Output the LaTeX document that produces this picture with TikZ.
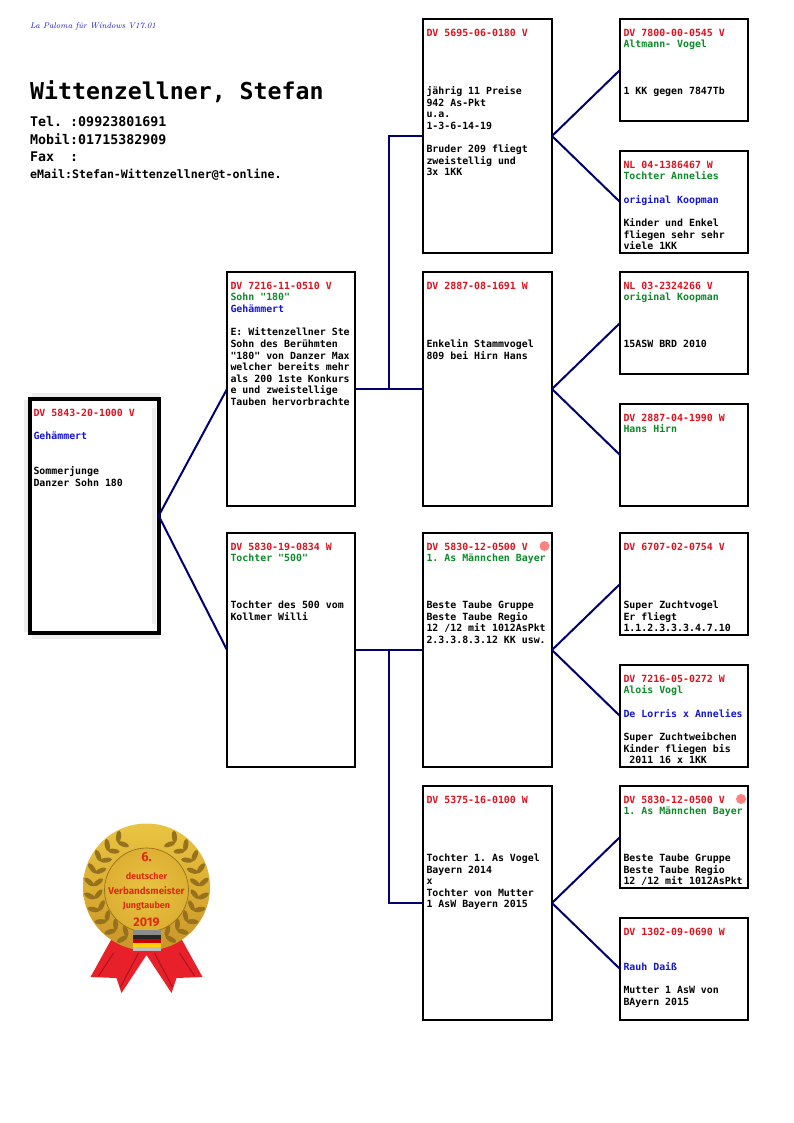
\documentclass[tikz,border=0pt]{standalone}
\usepackage{fontspec}
\usepackage{xcolor}
\setmonofont{DejaVu Sans Mono}
\newfontfamily\medalfont{Fira Sans}
\usetikzlibrary{calc}
\definecolor{pred}{HTML}{E0101C}
\definecolor{pgreen}{HTML}{0C8A28}
\definecolor{pblue}{HTML}{1414D8}
\definecolor{navyline}{HTML}{00006E}
\definecolor{shadowgray}{HTML}{EDEDED}
\definecolor{leafbrown}{HTML}{96721E}
\definecolor{goldA}{HTML}{E9C443}
\definecolor{goldB}{HTML}{DDAF32}
\definecolor{goldC}{HTML}{C9952A}
\definecolor{ribbon}{HTML}{E8202A}
\definecolor{ribbonD}{HTML}{A81420}
\definecolor{medalred}{HTML}{DC2E10}
\newcommand\rdt[1]{\textcolor{pred}{#1}}
\newcommand\grt[1]{\textcolor{pgreen}{#1}}
\newcommand\blt[1]{\textcolor{pblue}{#1}}
\newcommand\ee{\mbox{}\\}
\newcommand\pedbox[7][fambox]{%
  \node[#1,minimum width=#5pt,minimum height=#6pt] (#2) at (#3,#4)
  {\begin{minipage}[t][\dimexpr#6pt-20pt\relax][t]{\dimexpr#5pt-7pt\relax}%
   \fontsize{9.9}{11.62}\selectfont\raggedright\ttfamily\bfseries #7\end{minipage}};}
\tikzset{
  fambox/.style={draw=black,line width=2pt,anchor=north west,inner xsep=3.5pt,inner ysep=10pt,outer sep=0pt},
  rootbox/.style={fambox,line width=4pt},
  link/.style={draw=navyline,line width=2pt},
  headtext/.style={anchor=west,inner sep=0pt,font=\ttfamily\bfseries},
  medaltext/.style={text=medalred,inner sep=0pt},
  leaf/.style={fill=leafbrown},
  dot/.style={circle,fill=red!50!white,inner sep=0pt,minimum size=10pt}
}
\begin{document}
\begin{tikzpicture}[x=1pt,y=-1pt]
\useasboundingbox (0,0) rectangle (794,1123);
% header
\node[anchor=west,inner sep=0pt,text=pblue,font=\fontsize{8.3}{10}\selectfont\itshape] (prog) at (30,26) {La Paloma für Windows V17.01};
\node[headtext,font=\fontsize{23.2}{26}\selectfont\ttfamily\bfseries] (owner) at (30,92) {Wittenzellner, Stefan};
\node[headtext,font=\fontsize{13.3}{15}\selectfont\ttfamily\bfseries] (tel) at (30,121.5) {Tel. :09923801691};
\node[headtext,font=\fontsize{13.3}{15}\selectfont\ttfamily\bfseries] (mobil) at (30,139) {Mobil:01715382909};
\node[headtext,font=\fontsize{13.3}{15}\selectfont\ttfamily\bfseries] (fax) at (30,157) {Fax\ \ :};
\node[headtext,font=\fontsize{11.6}{13}\selectfont\ttfamily\bfseries] (mail) at (30,175) {eMail:Stefan-Wittenzellner@t-online.};
% root shadow
\fill[shadowgray] (32,393) rectangle (160,397);
\fill[shadowgray] (24,400) rectangle (28,632);
\fill[shadowgray] (152,408) rectangle (156,624);
\fill[shadowgray] (32,635) rectangle (160,639);
% boxes
\pedbox[rootbox]{root}{30}{399}{128.7}{233.5}{\rdt{DV 5843-20-1000 V}\\\ee\blt{Gehämmert}\\\ee\ee Sommerjunge\\Danzer Sohn 180}
\pedbox{s}{227}{272}{128}{234}{\rdt{DV 7216-11-0510 V}\\\grt{Sohn "180"}\\\blt{Gehämmert}\\\ee E: Wittenzellner Ste\\Sohn des Berühmten\\"180" von Danzer Max\\welcher bereits mehr\\als 200 1ste Konkurs\\e und zweistellige\\Tauben hervorbrachte}
\pedbox{m}{227}{533}{128}{234}{\rdt{DV 5830-19-0834 W}\\\grt{Tochter "500"}\\\ee\ee\ee Tochter des 500 vom\\Kollmer Willi}
\pedbox{ss}{423}{19}{129}{234}{\rdt{DV 5695-06-0180 V}\\\ee\ee\ee\ee jährig 11 Preise\\942 As-Pkt\\u.a.\\1-3-6-14-19\\\ee Bruder 209 fliegt\\zweistellig und\\3x 1KK}
\pedbox{sm}{423}{272}{129}{234}{\rdt{DV 2887-08-1691 W}\\\ee\ee\ee\ee Enkelin Stammvogel\\809 bei Hirn Hans}
\pedbox{ms}{423}{533}{129}{234}{\rdt{DV 5830-12-0500 V}\\\grt{1. As Männchen Bayer}\\\ee\ee\ee Beste Taube Gruppe\\Beste Taube Regio\\12 /12 mit 1012AsPkt\\2.3.3.8.3.12 KK usw.}
\pedbox{mm}{423}{786}{129}{234}{\rdt{DV 5375-16-0100 W}\\\ee\ee\ee\ee Tochter 1. As Vogel\\Bayern 2014\\x\\Tochter von Mutter\\1 AsW Bayern 2015}
\pedbox{sss}{620}{19}{128}{102}{\rdt{DV 7800-00-0545 V}\\\grt{Altmann- Vogel}\\\ee\ee\ee 1 KK gegen 7847Tb}
\pedbox{ssm}{620}{151}{128}{102}{\rdt{NL 04-1386467 W}\\\grt{Tochter Annelies}\\\ee\blt{original Koopman}\\\ee Kinder und Enkel\\fliegen sehr sehr\\viele 1KK}
\pedbox{sms}{620}{272}{128}{102}{\rdt{NL 03-2324266 V}\\\grt{original Koopman}\\\ee\ee\ee 15ASW BRD 2010}
\pedbox{smm}{620}{404}{128}{102}{\rdt{DV 2887-04-1990 W}\\\grt{Hans Hirn}}
\pedbox{mss}{620}{533}{128}{102}{\rdt{DV 6707-02-0754 V}\\\ee\ee\ee\ee Super Zuchtvogel\\Er fliegt\\1.1.2.3.3.3.4.7.10}
\pedbox{msm}{620}{665}{128}{102}{\rdt{DV 7216-05-0272 W}\\\grt{Alois Vogl}\\\ee\blt{De Lorris x Annelies}\\\ee Super Zuchtweibchen\\Kinder fliegen bis\\\ 2011 16 x 1KK}
\pedbox{mms}{620}{786}{128}{102}{\rdt{DV 5830-12-0500 V}\\\grt{1. As Männchen Bayer}\\\ee\ee\ee Beste Taube Gruppe\\Beste Taube Regio\\12 /12 mit 1012AsPkt}
\pedbox{mmm}{620}{918}{128}{102}{\rdt{DV 1302-09-0690 W}\\\ee\ee\blt{Rauh Daiß}\\\ee Mutter 1 AsW von\\BAyern 2015}
\node[dot] (dotA) at (544.5,546) {};
\node[dot] (dotB) at (741,799) {};
% connectors
\draw[link] (root.east) -- (s.west);
\draw[link] (root.east) -- (m.west);
\coordinate (js) at ($(s.east)!0.5!(sm.west)$);
\coordinate (jm) at ($(m.east)!0.5!(ms.west)$);
\draw[link] (s.east) -- (sm.west);
\draw[link] (js) |- (ss.west);
\draw[link] (m.east) -- (ms.west);
\draw[link] (jm) |- (mm.west);
\foreach \p/\a/\b in {ss/sss/ssm,sm/sms/smm,ms/mss/msm,mm/mms/mmm}{
  \draw[link] (\p.east) -- (\a.west);
  \draw[link] (\p.east) -- (\b.west);
}
% medal
\begin{scope}[shift={(146.5,887)},y=1pt]
  \fill[ribbon] (-35,-52) -- (-56,-90) -- (-30,-91) -- (-25,-106) -- (0,-68) -- (25,-106) -- (30,-91) -- (56,-90) -- (35,-52) -- cycle;
  \draw[ribbonD,line width=1pt] (-33,-66) -- (-48,-89);
  \draw[ribbonD,line width=1pt] (-8,-66) -- (-26,-100);
  \draw[ribbonD,line width=1pt] (33,-66) -- (48,-89);
  \draw[ribbonD,line width=1pt] (8,-66) -- (26,-100);
  \shade[top color=goldA,bottom color=goldC,middle color=goldB] (0,0) circle (63.5);
  \foreach \s in {1,-1}{
    \begin{scope}[xscale=\s]
      \foreach \a in {-68,-54,...,70}{
        \fill[leaf,rotate=\a,shift={(57.5,3)},rotate=38] (0,0) ellipse (6.2 and 2.5);
        \fill[leaf,rotate=\a,shift={(48.5,3)},rotate=-38] (0,0) ellipse (6 and 2.4);
      }
    \end{scope}
  }
  \shade[draw=leafbrown,line width=.7pt,inner color=goldA,outer color=goldB] (0,-3) circle (42);
  \node[medaltext,font=\fontsize{13}{14}\selectfont\medalfont\bfseries] (m6) at (0,30) {6.};
  \node[medaltext,font=\fontsize{9}{10}\selectfont\medalfont\bfseries] (m1) at (0,11) {deutscher};
  \node[medaltext,font=\fontsize{9.8}{10}\selectfont\medalfont\bfseries] (m2) at (0,-4) {Verbandsmeister};
  \node[medaltext,font=\fontsize{9}{10}\selectfont\medalfont\bfseries] (m3) at (0,-19.5) {Jungtauben};
  \node[medaltext,font=\fontsize{12.5}{14}\selectfont\medalfont\bfseries] (m4) at (0,-35) {2019};
  \fill[black!45] (-14,-43) rectangle (14,-48);
  \fill[black!85] (-14,-48) rectangle (14,-52);
  \fill[red!80!black] (-14,-52) rectangle (14,-56);
  \fill[yellow!70!orange] (-14,-56) rectangle (14,-60);
  \fill[black!25] (-14,-60) rectangle (14,-64);
\end{scope}
\end{tikzpicture}
\end{document}
